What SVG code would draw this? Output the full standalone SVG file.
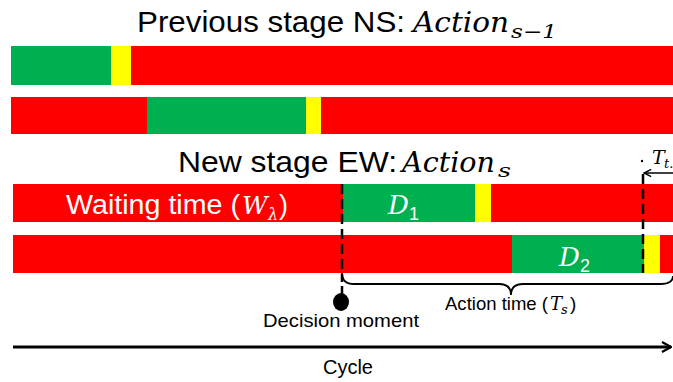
<svg xmlns="http://www.w3.org/2000/svg" width="673" height="382" viewBox="0 0 673 382">
<defs>
<style>
.r{fill:#ff0000}.g{fill:#00b050}.y{fill:#ffff00}
.t{font-family:"Liberation Sans","Open Sans",sans-serif;fill:#000}
.m{font-family:"DejaVu Serif","Liberation Serif",serif;font-style:italic}
.w{fill:#fff}
.dash{stroke:#000;stroke-width:2.5;stroke-dasharray:10 5;fill:none}
</style>
<marker id="chev" viewBox="0 0 10 10" refX="9" refY="5" markerWidth="9" markerHeight="9" orient="auto" markerUnits="userSpaceOnUse">
<path d="M1,1 L9,5 L1,9" fill="none" stroke="#000" stroke-width="1.6"/>
</marker>
<marker id="chev2" viewBox="0 0 12 12" refX="11" refY="6" markerWidth="12" markerHeight="12" orient="auto" markerUnits="userSpaceOnUse">
<path d="M2,1 L11,6 L2,11" fill="none" stroke="#000" stroke-width="2.2"/>
</marker>
</defs>
<rect width="673" height="382" fill="#fff"/>

<g id="title-prev">
<text class="t" x="137" y="32" font-size="30" textLength="268" lengthAdjust="spacingAndGlyphs">Previous stage NS:</text>
<text class="t m" x="413" y="32" font-size="27" textLength="96" lengthAdjust="spacingAndGlyphs">Action</text>
<text class="t m" x="511" y="38" font-size="19" textLength="46" lengthAdjust="spacingAndGlyphs">s−1</text>
</g>

<g id="bar-ns-1">
<rect class="r" x="11" y="46" width="662" height="39"/>
<rect class="g" x="11" y="46" width="100" height="39"/>
<rect class="y" x="111" y="46" width="20" height="39"/>
</g>
<g id="bar-ns-2">
<rect class="r" x="11" y="97" width="662" height="37"/>
<rect class="g" x="147" y="97" width="159" height="37"/>
<rect class="y" x="306" y="97" width="15" height="37"/>
</g>

<g id="title-new">
<text class="t" x="178" y="172" font-size="30" textLength="219" lengthAdjust="spacingAndGlyphs">New stage EW:</text>
<text class="t m" x="402" y="172" font-size="27" textLength="93" lengthAdjust="spacingAndGlyphs">Action</text>
<text class="t m" x="498" y="177" font-size="19" textLength="13" lengthAdjust="spacingAndGlyphs">s</text>
</g>

<g id="bar-ew-1">
<rect class="r" x="13" y="184" width="660" height="38"/>
<rect class="g" x="343" y="184" width="132" height="38"/>
<rect class="y" x="475" y="184" width="16" height="38"/>
<text class="t w" x="66" y="214" font-size="27" textLength="174" lengthAdjust="spacingAndGlyphs">Waiting time (</text>
<text class="t m w" x="242" y="214" font-size="25">W</text>
<text class="t m w" x="268" y="220" font-size="16">λ</text>
<text class="t w" x="279" y="214" font-size="27">)</text>
<text class="t m w" x="388" y="214" font-size="26">D</text>
<text class="t w" x="409" y="220" font-size="18">1</text>
</g>
<g id="bar-ew-2">
<rect class="r" x="13" y="235" width="660" height="38"/>
<rect class="g" x="512" y="235" width="132" height="38"/>
<rect class="y" x="644" y="235" width="16" height="38"/>
<text class="t m w" x="559" y="266" font-size="26">D</text>
<text class="t w" x="580" y="272" font-size="18">2</text>
</g>

<g id="connectors">
<line class="dash" x1="342" y1="184" x2="342" y2="282"/>
<line class="dash" x1="643" y1="174" x2="643" y2="273"/>
<path d="M342,273 Q342,284 354,284 L499,284 Q511,284 511,295 Q511,284 523,284 L661,284 Q673,284 673,276" fill="none" stroke="#000" stroke-width="1.8"/>
<line x1="673" y1="173" x2="644" y2="173" stroke="#000" stroke-width="1.5" marker-end="url(#chev)"/>
<line x1="13" y1="347" x2="671" y2="347" stroke="#000" stroke-width="2.8" marker-end="url(#chev2)"/>
</g>

<g id="decision">
<line x1="342" y1="286" x2="342" y2="296" stroke="#000" stroke-width="2.5"/>
<ellipse cx="341" cy="302" rx="8" ry="9" fill="#000"/>
<text class="t" x="341" y="327" font-size="19" text-anchor="middle" textLength="156" lengthAdjust="spacingAndGlyphs">Decision moment</text>
</g>

<g id="action-time">
<text class="t" x="445" y="310" font-size="19" textLength="103" lengthAdjust="spacingAndGlyphs">Action time (</text>
<text class="t m" x="550" y="310" font-size="18">T</text>
<text class="t m" x="561" y="314" font-size="13">s</text>
<text class="t" x="570" y="310" font-size="19">)</text>
</g>

<g id="tt">
<circle cx="642" cy="161" r="1.2" fill="#000"/>
<text class="t m" x="652" y="164" font-size="19">T</text>
<text class="t m" x="664" y="168" font-size="13">t.</text>
</g>

<g id="cycle">
<text class="t" x="348" y="374" font-size="20" text-anchor="middle">Cycle</text>
</g>
</svg>
